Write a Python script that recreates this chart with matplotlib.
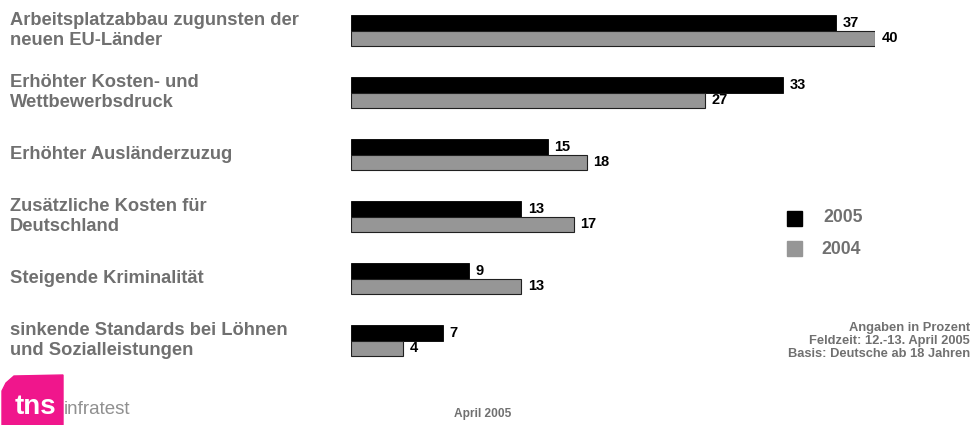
import matplotlib.pyplot as plt
import numpy as np
from matplotlib.transforms import blended_transform_factory
from matplotlib.patches import Polygon

plt.rcParams['font.family'] = ['Liberation Sans', 'DejaVu Sans']

categories = [
    "Arbeitsplatzabbau zugunsten der\nneuen EU-Länder",
    "Erhöhter Kosten- und\nWettbewerbsdruck",
    "Erhöhter Ausländerzuzug",
    "Zusätzliche Kosten für\nDeutschland",
    "Steigende Kriminalität",
    "sinkende Standards bei Löhnen\nund Sozialleistungen",
]
values_2005 = [37, 33, 15, 13, 9, 7]
values_2004 = [40, 27, 18, 17, 13, 4]
series_labels = ["2005", "2004"]

GREY_TXT = "#707070"
W, H = 977, 425

fig = plt.figure(figsize=(W / 100, H / 100), dpi=100)
ax = fig.add_axes([351 / W, 0, (875 - 351) / W, 1])
ax.set_xlim(0, 40)
ax.set_ylim((H - 30.5) / 62, -30.5 / 62)
ax.axis("off")

y = np.arange(len(categories))
bh = 0.25
ax.barh(y - bh / 2, values_2005, height=bh, color="black", edgecolor="black", linewidth=0.6)
ax.barh(y + bh / 2, values_2004, height=bh, color="#969696", edgecolor="#202020", linewidth=0.8)

for i in range(len(categories)):
    ax.text(values_2005[i] + 0.5, y[i] - bh / 2, str(values_2005[i]), ha="left", va="center",
            fontsize=10.5, fontweight="bold", color="black", clip_on=False)
    ax.text(values_2004[i] + 0.5, y[i] + bh / 2, str(values_2004[i]), ha="left", va="center",
            fontsize=10.5, fontweight="bold", color="black", clip_on=False)

trans = blended_transform_factory(fig.transFigure, ax.transData)
for i, cat in enumerate(categories):
    ax.text(10 / W, y[i], cat, transform=trans, ha="left", va="center", fontsize=13.2,
            fontweight="bold", color=GREY_TXT, linespacing=1.2)

# legend
fig.patches.append(plt.Rectangle((787 / W, 1 - 226 / H), 15 / W, 15 / H, color="black",
                                 transform=fig.transFigure))
fig.patches.append(plt.Rectangle((787 / W, 1 - 256 / H), 15 / W, 15 / H, color="#969696",
                                 transform=fig.transFigure))
fig.text(823 / W, 1 - 218 / H, series_labels[0], ha="left", va="center", fontsize=12.7,
         fontweight="bold", color=GREY_TXT)
fig.text(821 / W, 1 - 249 / H, series_labels[1], ha="left", va="center", fontsize=12.7,
         fontweight="bold", color=GREY_TXT)

fig.text(970 / W, 1 - 341 / H,
         "Angaben in Prozent\nFeldzeit: 12.-13. April 2005\nBasis: Deutsche ab 18 Jahren",
         ha="right", va="center", fontsize=9.3, fontweight="bold", color=GREY_TXT, linespacing=1.15)
fig.text(483 / W, 1 - 414 / H, "April 2005", ha="center", va="center", fontsize=8.6,
         fontweight="bold", color=GREY_TXT)

# logo
pts = [(2, 425), (2, 391), (6, 383), (14, 376), (63, 375), (63, 425)]
fig.patches.append(Polygon([(px / W, 1 - py / H) for px, py in pts], closed=True,
                           color="#f0168c", transform=fig.transFigure))
fig.text(15 / W, 1 - 407 / H, "tns", ha="left", va="center", fontsize=20, fontweight="bold",
         color="white")
fig.text(64 / W, 1 - 409 / H, "infratest", ha="left", va="center", fontsize=13.5,
         color="#909090")

fig.savefig("out.png", dpi=100)
